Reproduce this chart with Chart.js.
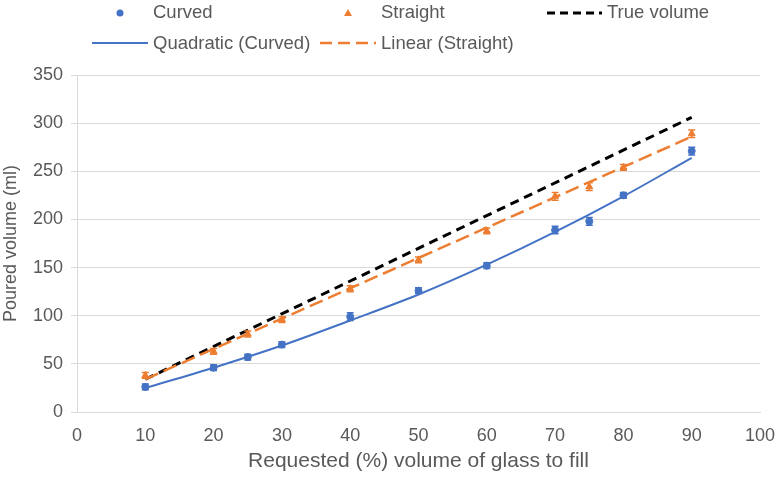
<!DOCTYPE html>
<html>
<head>
<meta charset="utf-8">
<script src="https://cdn.jsdelivr.net/npm/chart.js@4.4.1/dist/chart.umd.min.js"></script>
<style>
  html, body { margin: 0; padding: 0; background: #fff; }
  #wrap { position: relative; width: 775px; height: 478px; }
  #legend { position: absolute; left: 0; top: 0; width: 775px; height: 62px;
            font-family: "Liberation Sans", Arial, sans-serif; font-size: 18.5px; color: #595959; }
  .item { position: absolute; display: flex; align-items: center; height: 24px; }
  .item svg { width: 56px; height: 24px; margin-right: 5px; }
</style>
</head>
<body>
<div id="wrap">
  <canvas id="chart" width="775" height="478"></canvas>
  <div id="legend">
    <div class="item" style="left:92px; top:0px">
      <svg viewBox="0 0 56 24"><circle cx="28" cy="13" r="3.5" fill="#4472C4"/></svg>Curved</div>
    <div class="item" style="left:320px; top:0px">
      <svg viewBox="0 0 56 24"><polygon points="28,9 32,16 24,16" fill="#ED7D31"/></svg>Straight</div>
    <div class="item" style="left:546px; top:0px">
      <svg viewBox="0 0 56 24"><line x1="1" y1="13" x2="56" y2="13" stroke="#000" stroke-width="3" stroke-dasharray="8,5"/></svg>True volume</div>
    <div class="item" style="left:92px; top:31px">
      <svg viewBox="0 0 56 24"><line x1="0" y1="12" x2="56" y2="12" stroke="#4472C4" stroke-width="2"/></svg>Quadratic (Curved)</div>
    <div class="item" style="left:320px; top:31px">
      <svg viewBox="0 0 56 24"><line x1="0" y1="12" x2="56" y2="12" stroke="#ED7D31" stroke-width="2.5" stroke-dasharray="12,6"/></svg>Linear (Straight)</div>
  </div>
</div>
<script>
// measured points (requested % -> poured ml)
const requested = [10, 20, 25, 30, 40, 50, 60, 70, 75, 80, 90];
const curved    = [26, 46, 57, 70, 99, 126, 152, 189, 198, 225, 271];
const straight  = [38, 63, 81, 96, 128, 158, 188, 224, 234, 254, 289];
const curvedErr   = [3, 3, 3, 3, 4, 3, 3, 4, 4, 3, 4];
const straightErr = [3, 3, 3, 3, 3, 3, 3, 4, 4, 3, 4];

// reference line: full glass ~340 ml
const trueX = [10, 90];
const trueY = [34, 306];

// trendlines
const quadX = [10, 20, 30, 40, 50, 60, 70, 80, 90];
const quadY = [25, 46, 69, 95, 122, 153, 187, 224, 264];
const linX  = [10, 90];
const linY  = [34, 286];

const xTicks = [0, 100, 10];  // min, max, step
const yTicks = [0, 350, 50];

const pts = (xs, ys) => xs.map((x, i) => ({ x: x, y: ys[i] }));

const FONT = "'Liberation Sans', Arial, sans-serif";
const GREY = '#595959';

// small vertical error bars with caps
const errorBars = {
  id: 'errorBars',
  afterDatasetsDraw(chart) {
    const c = chart.ctx, ys = chart.scales.y;
    chart.data.datasets.forEach((ds, di) => {
      if (!ds.errors) return;
      const meta = chart.getDatasetMeta(di);
      c.save();
      c.strokeStyle = ds.errColor;
      c.lineWidth = 1.5;
      meta.data.forEach((pt, i) => {
        const v = ds.data[i].y, e = ds.errors[i];
        const top = ys.getPixelForValue(v + e), bot = ys.getPixelForValue(v - e);
        c.beginPath();
        c.moveTo(pt.x, top); c.lineTo(pt.x, bot);
        c.moveTo(pt.x - 3.5, top); c.lineTo(pt.x + 3.5, top);
        c.moveTo(pt.x - 3.5, bot); c.lineTo(pt.x + 3.5, bot);
        c.stroke();
      });
      c.restore();
    });
  }
};

new Chart(document.getElementById('chart'), {
  type: 'scatter',
  data: {
    datasets: [
      { label: 'True volume', data: pts(trueX, trueY), showLine: true, borderColor: '#000',
        borderWidth: 3, borderDash: [9, 6], pointRadius: 0, order: 5 },
      { label: 'Quadratic (Curved)', data: pts(quadX, quadY), showLine: true, borderColor: '#4472C4',
        borderWidth: 2, tension: 0.4, cubicInterpolationMode: 'monotone', pointRadius: 0, order: 4 },
      { label: 'Linear (Straight)', data: pts(linX, linY), showLine: true, borderColor: '#ED7D31',
        borderWidth: 2.5, borderDash: [14, 6], pointRadius: 0, order: 3 },
      { label: 'Curved', data: pts(requested, curved), errors: curvedErr, errColor: '#4472C4',
        backgroundColor: '#4472C4', borderColor: '#4472C4', pointStyle: 'circle', pointRadius: 3.5, order: 2 },
      { label: 'Straight', data: pts(requested, straight), errors: straightErr, errColor: '#ED7D31',
        backgroundColor: '#ED7D31', borderColor: '#ED7D31', pointStyle: 'triangle', pointRadius: 4, order: 1 }
    ]
  },
  options: {
    responsive: false,
    animation: false,
    layout: { padding: { top: 75, right: 15, left: 0, bottom: 0 } },
    plugins: { legend: { display: false }, tooltip: { enabled: false } },
    scales: {
      x: {
        type: 'linear', min: xTicks[0], max: xTicks[1],
        ticks: { stepSize: xTicks[2], color: GREY, font: { family: FONT, size: 18 }, padding: 5 },
        grid: { display: false },
        border: { display: true, color: '#d9d9d9', width: 1 },
        title: { display: true, text: 'Requested (%) volume of glass to fill', color: GREY,
                 font: { family: FONT, size: 21 }, padding: { top: 0 } },
        afterFit: s => { s.height = 66; s.paddingRight = 0; s.paddingLeft = 0; }
      },
      y: {
        min: yTicks[0], max: yTicks[1],
        ticks: { stepSize: yTicks[2], color: GREY, font: { family: FONT, size: 18 }, padding: 8 },
        grid: { color: '#d9d9d9', lineWidth: 1, tickLength: 6 },
        border: { display: true, color: '#d9d9d9', width: 1 },
        title: { display: true, text: 'Poured volume (ml)', color: GREY,
                 font: { family: FONT, size: 18 }, padding: { top: 0, bottom: 2 } },
        afterFit: s => { s.width = 77; }
      }
    }
  },
  plugins: [errorBars]
});
</script>
</body>
</html>
